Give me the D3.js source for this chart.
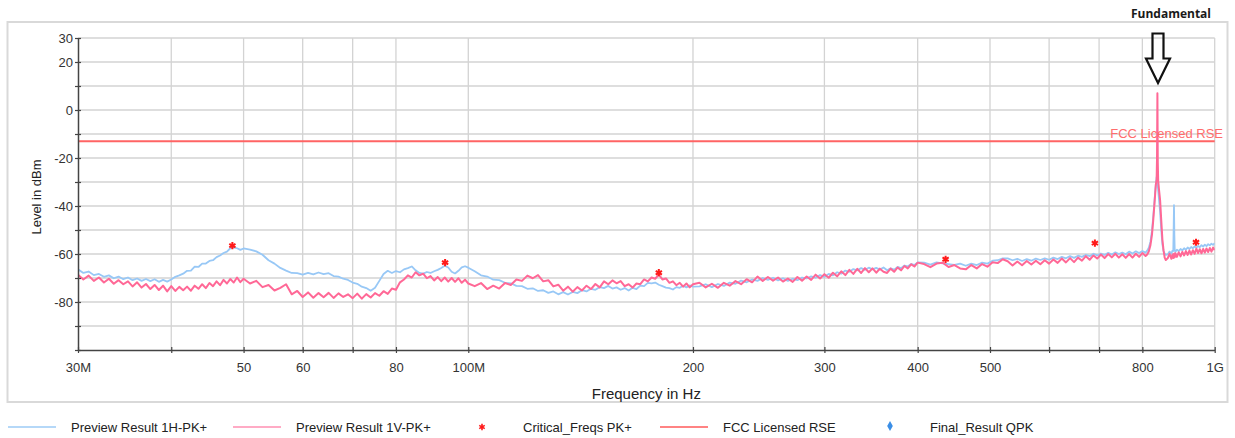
<!DOCTYPE html>
<html>
<head>
<meta charset="utf-8">
<script src="https://cdn.jsdelivr.net/npm/d3@7"></script>
<style>
  html, body { margin: 0; padding: 0; background: #ffffff; }
  svg { display: block; }
</style>
</head>
<body>
<svg id="chart" width="1235" height="438"></svg>
<script>
// Sweep frequencies (MHz) shared by both preview traces
const sweepMHz = [
  30,30.5,31,31.5,32,32.5,33,33.5,34,34.5,35,35.5,36,36.5,37,37.5,38,38.5,39,39.5,40,40.5,41,41.5,42,42.5,43,43.5,44,44.5,45,45.5,46,46.5,47,47.5,48,48.5,49,49.5,50,
  51,52,53,54,55,56,57,58,59,60,61,62,63,64,65,66,67,68,69,70,71,72,73,74,75,76,77,78,79,80,81,82,83,84,85,86,87,88,89,90,91,92,93,94,95,96,97,98,99,100,
  102,104,106,108,110,112,114,116,118,120,122,124,126,128,130,132,134,136,138,140,142,144,146,148,150,152,154,156,158,160,162,164,166,168,170,172,174,176,178,180,182,184,186,188,190,192,194,196,198,200,
  204,208,212,216,220,224,228,232,236,240,244,248,252,256,260,264,268,272,276,280,284,288,292,296,300,304,308,312,316,320,324,328,332,336,340,344,348,352,356,360,364,368,372,376,380,384,388,392,396,400,
  408,416,424,432,440,448,456,464,472,480,488,496,504,512,520,528,536,544,552,560,568,576,584,592,600,608,616,624,632,640,648,656,664,672,680,688,696,704,712,720,728,736,744,752,760,768,776,784,792,800,808,
  812,816,820,824,827,830,832,834,836,837,838,839,840,842,845,848,851,854,857,860,
  865,870,875,878,880,881,882,883,884,886,890,895,900,905,910,915,920,925,930,935,940,945,950,955,960,965,970,975,980,985,990,995,1000
];

// Preview Result 1H-PK+ (dBm)
const level1H = [
  -66.4,-67.9,-67.3,-68.8,-68.3,-69.5,-68.9,-70.1,-69.4,-70.5,-69.8,-70.9,-70.2,-71.2,-70.4,-71.3,-70.5,-71.6,-70.8,-71.5,-70.6,-69.5,-68.9,-68.2,-67.0,-66.9,-65.3,-65.4,-64.0,-64.0,-62.9,-62.6,-61.3,-60.6,-59.6,-59.0,-57.6,-57.2,-57.6,-58.3,-57.7,
  -58.2,-58.9,-60.3,-62.6,-64.0,-65.8,-66.9,-67.9,-68.0,-68.6,-67.9,-68.5,-67.7,-68.4,-68.0,-69.2,-69.4,-70.3,-70.8,-71.9,-72.4,-73.6,-74.2,-75.3,-74.1,-71.2,-68.3,-67.0,-67.9,-67.1,-67.6,-66.4,-65.9,-65.2,-66.8,-67.9,-68.2,-67.5,-67.9,-67.2,-66.6,-65.8,-64.9,-65.6,-67.4,-68.1,-67.0,-65.6,-65.1,-65.7,
  -67.2,-68.9,-69.4,-70.7,-70.9,-72.0,-72.2,-73.3,-73.4,-74.5,-74.3,-75.4,-75.1,-76.2,-75.6,-76.8,-75.9,-76.9,-75.8,-76.3,-75.1,-75.6,-74.5,-74.9,-73.8,-74.2,-73.3,-74.4,-73.9,-74.9,-74.2,-75.2,-74.1,-74.6,-73.2,-73.4,-72.0,-72.2,-71.9,-72.8,-73.4,-74.0,-74.2,-74.8,-73.8,-74.1,-73.2,-73.9,-73.1,-73.6,
  -73.5,-72.6,-73.8,-72.5,-73.3,-71.9,-72.4,-71.1,-71.8,-70.6,-71.2,-70.0,-70.8,-69.9,-71.0,-70.1,-71.2,-70.3,-70.9,-69.8,-70.2,-69.3,-69.9,-68.8,-69.5,-68.3,-68.9,-67.6,-68.2,-66.9,-67.4,-66.3,-66.8,-65.9,-66.6,-65.7,-66.4,-65.8,-66.5,-65.6,-66.8,-66.0,-66.5,-65.4,-65.9,-64.8,-65.2,-64.1,-64.6,-63.5,
  -63.6,-64.4,-63.5,-63.9,-64.2,-64.5,-64.0,-64.9,-64.0,-64.6,-63.6,-64.0,-62.8,-62.6,-61.8,-61.8,-62.6,-62.0,-62.9,-62.1,-62.8,-61.9,-62.5,-61.8,-62.4,-61.5,-62.1,-61.2,-61.8,-60.9,-61.6,-60.7,-61.2,-60.3,-60.9,-59.9,-60.6,-59.8,-60.4,-59.5,-60.2,-59.3,-60.0,-59.4,-60.1,-59.0,-59.8,-58.9,-59.6,-58.8,-59.4,
  -58.6,-57.4,-55.0,-50.5,-45.0,-39.0,-34.5,-31.0,-28.0,-27.5,-29.0,-31.5,-33.5,-37.0,-42.5,-50.0,-56.0,-58.8,-59.8,-60.4,
  -60.2,-59.0,-59.8,-58.6,-58.8,-50.0,-39.6,-52.0,-58.4,-59.1,-58.2,-58.8,-57.9,-58.5,-57.6,-58.2,-57.3,-57.9,-57.1,-57.6,-56.8,-57.4,-56.6,-57.2,-56.3,-56.9,-56.1,-56.7,-55.9,-56.4,-55.7,-56.2,-55.5
];

// Preview Result 1V-PK+ (dBm)
const level1V = [
  -68.6,-70.6,-69.0,-71.2,-69.8,-71.9,-70.3,-72.4,-70.9,-72.6,-71.4,-73.5,-71.8,-74.0,-72.5,-74.6,-72.9,-75.0,-73.2,-75.6,-73.4,-75.4,-73.7,-75.1,-73.6,-75.3,-73.2,-74.5,-72.6,-74.2,-72.1,-73.4,-71.4,-73.0,-70.8,-72.3,-70.4,-71.9,-69.8,-71.7,-70.3,
  -72.3,-71.2,-73.8,-72.9,-75.2,-74.1,-72.6,-76.8,-75.4,-77.9,-76.0,-78.2,-76.3,-78.0,-76.2,-78.3,-76.4,-77.9,-76.8,-78.4,-76.5,-78.6,-76.7,-78.1,-76.3,-77.4,-75.5,-76.6,-74.4,-74.9,-71.8,-70.6,-68.9,-69.8,-67.6,-68.9,-68.2,-70.1,-69.2,-71.0,-69.6,-71.3,-69.8,-71.5,-70.0,-71.6,-70.1,-72.0,-70.7,-72.3,
  -73.4,-72.1,-74.6,-73.2,-74.4,-72.1,-72.9,-70.6,-71.2,-69.0,-70.1,-68.8,-71.4,-70.9,-73.5,-72.8,-75.3,-73.6,-75.7,-73.8,-75.2,-73.2,-74.6,-72.5,-73.9,-71.4,-72.6,-71.0,-72.2,-71.3,-73.4,-72.6,-74.0,-72.3,-72.6,-70.6,-71.4,-69.8,-70.3,-68.6,-70.6,-70.2,-72.0,-71.4,-73.0,-72.0,-73.6,-72.3,-73.9,-72.6,
  -72.0,-73.9,-72.4,-74.1,-72.0,-73.2,-71.3,-72.6,-70.5,-71.8,-69.4,-71.2,-69.6,-71.1,-69.8,-71.5,-70.2,-71.6,-69.6,-71.1,-69.4,-70.8,-68.6,-70.2,-68.4,-69.9,-67.8,-69.3,-67.2,-68.8,-66.6,-68.3,-66.2,-67.9,-65.9,-67.6,-66.0,-67.8,-66.1,-67.4,-67.9,-66.1,-67.4,-65.6,-66.8,-65.0,-66.0,-64.3,-65.2,-63.6,
  -64.2,-65.5,-64.0,-63.6,-65.4,-64.6,-66.0,-66.4,-64.6,-66.0,-64.2,-65.3,-63.4,-63.8,-62.2,-63.0,-64.8,-63.1,-64.7,-62.9,-64.4,-62.8,-64.3,-62.6,-64.0,-62.3,-63.7,-61.9,-63.5,-61.7,-63.4,-61.5,-62.8,-60.9,-62.4,-60.6,-61.9,-60.2,-61.7,-60.0,-61.4,-59.9,-61.5,-60.1,-61.6,-60.0,-61.5,-59.9,-61.2,-59.6,-60.8,
  -60.2,-59.0,-56.5,-52.0,-46.5,-40.0,-35.5,-31.0,-29.0,-20.0,7.0,-22.0,-29.5,-33.0,-37.5,-46.0,-54.0,-58.5,-61.5,-62.5,
  -61.8,-59.9,-62.0,-60.2,-61.7,-60.0,-61.5,-59.8,-61.4,-59.7,-61.2,-59.3,-61.0,-59.1,-60.6,-58.8,-60.4,-58.6,-60.2,-58.4,-59.9,-57.8,-59.6,-58.0,-59.7,-57.9,-59.4,-57.7,-59.2,-57.5,-59.0,-57.3,-58.4
];

// Critical_Freqs PK+
const criticalMHz   = [48.3, 93.1, 180, 436, 691, 944];
const criticalLevel = [-56.5, -63.6, -67.8, -62.2, -55.5, -55.1];

// Final_Result QPK (no final measurements in this scan)
const finalMHz   = [];
const finalLevel = [];

// FCC licensed radiated spurious emission limit (dBm)
const rseLimit = -13;

// Axis ticks
const xTickMHz    = [30, 40, 50, 60, 70, 80, 100, 200, 300, 400, 500, 600, 700, 800, 1000];
const xTickLabels = ["30M", "", "50", "60", "", "80", "100M", "200", "300", "400", "500", "", "", "800", "1G"];
const yTicks      = [30, 20, 10, 0, -10, -20, -30, -40, -50, -60, -70, -80, -90, -100];
const yTickLabels = ["30", "20", "", "0", "", "-20", "", "-40", "", "-60", "", "-80", "", ""];

const legendItems = [
  { label: "Preview Result 1H-PK+", kind: "line", color: "#9dcbf6", x: 8 },
  { label: "Preview Result 1V-PK+", kind: "line", color: "#ff8fb2", x: 233 },
  { label: "Critical_Freqs PK+", kind: "star", color: "#ff1a1a", x: 482 },
  { label: "FCC Licensed RSE", kind: "line", color: "#ff5a5a", x: 660 },
  { label: "Final_Result QPK", kind: "diamond", color: "#3a8ee6", x: 890 }
];

const FONT = "'Liberation Sans', Arial, Helvetica, sans-serif";
const plot = { left: 78, right: 1214.7, top: 38, bottom: 350 };

const svg = d3.select("#chart");

const x = d3.scaleLog().domain([30, 1000]).range([plot.left, plot.right]);
const y = d3.scaleLinear().domain([-100, 30]).range([plot.bottom, plot.top]);

// Outer panel frame
svg.append("rect")
  .attr("x", 7.5).attr("y", 22).attr("width", 1220).attr("height", 380)
  .attr("fill", "none").attr("stroke", "#d9d9d9").attr("stroke-width", 2);

// Grid
const grid = svg.append("g").attr("stroke", "#d3d3d3").attr("stroke-width", 1.3);
grid.selectAll("line.v").data(xTickMHz.filter(f => f > 30)).join("line")
  .attr("class", "v")
  .attr("x1", d => x(d)).attr("x2", d => x(d))
  .attr("y1", plot.top).attr("y2", plot.bottom);
grid.selectAll("line.h").data(yTicks.filter(v => v > -100)).join("line")
  .attr("class", "h")
  .attr("x1", plot.left).attr("x2", plot.right)
  .attr("y1", d => y(d)).attr("y2", d => y(d));

// Clip region for the traces
svg.append("defs").append("clipPath").attr("id", "plotClip")
  .append("rect")
  .attr("x", plot.left).attr("y", plot.top - 1)
  .attr("width", plot.right - plot.left).attr("height", plot.bottom - plot.top + 1);

// Limit line
svg.append("line")
  .attr("x1", plot.left).attr("x2", plot.right)
  .attr("y1", y(rseLimit)).attr("y2", y(rseLimit))
  .attr("stroke", "#ff6464").attr("stroke-width", 2);

// Traces
const traceH = sweepMHz.map((f, i) => ({ f, v: level1H[i] })).filter(d => d.v !== undefined);
const traceV = sweepMHz.map((f, i) => ({ f, v: level1V[i] })).filter(d => d.v !== undefined);
const line = d3.line().x(d => x(d.f)).y(d => y(d.v));

const traces = svg.append("g").attr("clip-path", "url(#plotClip)");
traces.append("path").datum(traceH)
  .attr("d", line).attr("fill", "none")
  .attr("stroke", "#98c8f6").attr("stroke-width", 1.8).attr("stroke-linejoin", "round");
traces.append("path").datum(traceV)
  .attr("d", line).attr("fill", "none")
  .attr("stroke", "#ff6896").attr("stroke-width", 2).attr("stroke-linejoin", "round");

// Critical frequency markers
const star = d3.symbol().type(d3.symbolAsterisk).size(36);
svg.append("g").selectAll("path")
  .data(criticalMHz.map((f, i) => ({ f, v: criticalLevel[i] })))
  .join("path")
  .attr("d", star)
  .attr("transform", d => `translate(${x(d.f)},${y(d.v)})`)
  .attr("fill", "none").attr("stroke", "#ff1a1a").attr("stroke-width", 2);

// Final result markers
const diamond = d3.symbol().type(d3.symbolDiamond).size(30);
svg.append("g").selectAll("path")
  .data(finalMHz.map((f, i) => ({ f, v: finalLevel[i] })))
  .join("path")
  .attr("d", diamond)
  .attr("transform", d => `translate(${x(d.f)},${y(d.v)})`)
  .attr("fill", "#3a8ee6");

// Limit label
svg.append("text")
  .attr("x", 1223).attr("y", 138)
  .attr("text-anchor", "end")
  .attr("font-family", FONT).attr("font-size", 13)
  .attr("fill", "#ff6c6c")
  .text("FCC Licensed RSE");

// Axes
const yAxis = d3.axisLeft(y)
  .tickValues(yTicks)
  .tickFormat((d, i) => yTickLabels[i])
  .tickSizeInner(3).tickSizeOuter(0).tickPadding(2);
const gy = svg.append("g").attr("transform", `translate(${plot.left},0)`).call(yAxis);
gy.attr("font-family", FONT).attr("font-size", 13);
gy.select(".domain").attr("stroke", "#444").attr("stroke-width", 1.5);
gy.selectAll(".tick line").attr("x1", 3).attr("stroke", "#444").attr("stroke-width", 1.2);
gy.selectAll(".tick text").attr("fill", "#333");

const xAxis = d3.axisBottom(x)
  .tickValues(xTickMHz)
  .tickFormat((d, i) => xTickLabels[i])
  .tickSizeInner(3).tickSizeOuter(0).tickPadding(10);
const gx = svg.append("g").attr("transform", `translate(0,${plot.bottom})`).call(xAxis);
gx.attr("font-family", FONT).attr("font-size", 13);
gx.select(".domain").attr("stroke", "#444").attr("stroke-width", 1.5);
gx.selectAll(".tick line").attr("y1", -3).attr("stroke", "#444").attr("stroke-width", 1.2);
gx.selectAll(".tick text").attr("fill", "#333");

// Axis titles
svg.append("text")
  .attr("x", (plot.left + plot.right) / 2).attr("y", 399)
  .attr("text-anchor", "middle")
  .attr("font-family", FONT).attr("font-size", 15).attr("fill", "#222")
  .text("Frequency in Hz");
svg.append("text")
  .attr("transform", "translate(41,197) rotate(-90)")
  .attr("text-anchor", "middle")
  .attr("font-family", FONT).attr("font-size", 13).attr("fill", "#222")
  .text("Level in dBm");

// Fundamental annotation
svg.append("text")
  .attr("x", 1171).attr("y", 17.5)
  .attr("text-anchor", "middle")
  .attr("font-family", "'Open Sans', 'DejaVu Sans', sans-serif")
  .attr("font-weight", 700).attr("font-size", 12).attr("fill", "#1a1a1a")
  .text("Fundamental");
svg.append("path")
  .attr("d", "M1152.5,33.5 H1163.5 V58.5 H1170 L1158,83 L1146,58.5 H1152.5 Z")
  .attr("fill", "none").attr("stroke", "#111").attr("stroke-width", 2.2)
  .attr("stroke-linejoin", "miter");

// Legend
const legendY = 427;
const lg = svg.append("g").attr("font-family", FONT).attr("font-size", 13);
legendItems.forEach(item => {
  let textX;
  if (item.kind === "line") {
    lg.append("line")
      .attr("x1", item.x).attr("x2", item.x + 48)
      .attr("y1", legendY).attr("y2", legendY)
      .attr("stroke", item.color).attr("stroke-width", 1.5);
    textX = item.x + 63;
  } else if (item.kind === "star") {
    lg.append("path")
      .attr("d", d3.symbol().type(d3.symbolAsterisk).size(28))
      .attr("transform", `translate(${item.x},${legendY})`)
      .attr("fill", "none").attr("stroke", item.color).attr("stroke-width", 1.6);
    textX = item.x + 41;
  } else {
    lg.append("path")
      .attr("d", d3.symbol().type(d3.symbolDiamond).size(28))
      .attr("transform", `translate(${item.x},${legendY - 1})`)
      .attr("fill", item.color);
    textX = item.x + 40;
  }
  lg.append("text")
    .attr("x", textX).attr("y", legendY).attr("dy", "0.35em")
    .attr("fill", "#222")
    .text(item.label);
});
</script>
</body>
</html>
